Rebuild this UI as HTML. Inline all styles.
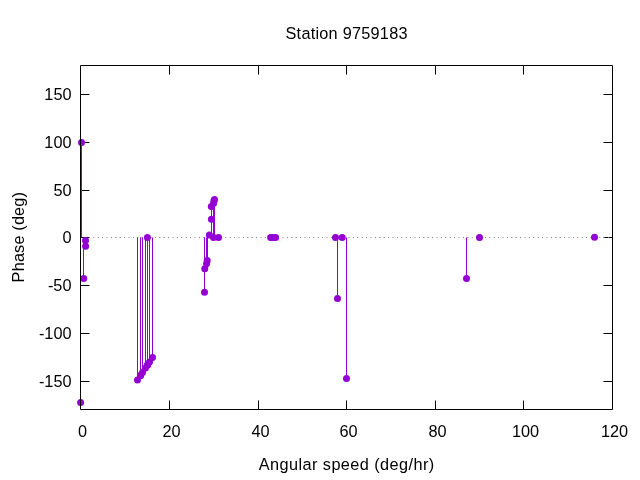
<!DOCTYPE html><html><head><meta charset="utf-8"><style>html,body{margin:0;padding:0;background:#fff;}svg{display:block;will-change:transform;}text{font-family:"Liberation Sans",sans-serif;fill:#000;}</style></head><body>
<svg width="640" height="480" viewBox="0 0 640 480">

<path d="M169.5 409.5V400.5M169.5 65.5V74.5M258.5 409.5V400.5M258.5 65.5V74.5M346.5 409.5V400.5M346.5 65.5V74.5M435.5 409.5V400.5M435.5 65.5V74.5M523.5 409.5V400.5M523.5 65.5V74.5M80.5 94.5H89.5M612.5 94.5H603.5M80.5 142.5H89.5M612.5 142.5H603.5M80.5 190.5H89.5M612.5 190.5H603.5M80.5 237.5H89.5M612.5 237.5H603.5M80.5 285.5H89.5M612.5 285.5H603.5M80.5 333.5H89.5M612.5 333.5H603.5M80.5 381.5H89.5M612.5 381.5H603.5" stroke="#000" stroke-width="1" fill="none"/>
<path d="M80.1 237.5H612" stroke="#7c7c7c" stroke-width="1" stroke-dasharray="1 3.4" fill="none"/>
<path d="M80.5 237.5V402.4M81.5 237.5V142.4M83.5 237.5V278.4M85.5 237.5V240.5M85.5 237.5V246.3M137.5 237.5V379.93M140.5 237.5V375.46M140.5 237.5V375.46M142.5 237.5V372.49M145.5 237.5V368.02M147.5 237.5V365.04M147.5 237.5V365.04M149.5 237.5V362.07M152.5 237.5V357.6M204.5 237.5V292.3M204.5 237.5V268.75M206.5 237.5V263.7M207.5 237.5V260.5M209.5 237.5V235.0M211.5 237.5V206.5M211.5 237.5V219.3M213.5 237.5V203.3M213.5 237.5V201.0M214.5 237.5V199.5M337.5 237.5V298.4M346.5 237.5V378.4M466.5 237.5V278.4" stroke="#9400d3" stroke-width="1" fill="none"/>
<circle cx="80.6" cy="402.4" r="3.5" fill="#9400d3"/>
<circle cx="81.5" cy="142.4" r="3.5" fill="#9400d3"/>
<circle cx="83.7" cy="278.4" r="3.5" fill="#9400d3"/>
<circle cx="85.5" cy="240.5" r="3.5" fill="#9400d3"/>
<circle cx="85.6" cy="246.3" r="3.5" fill="#9400d3"/>
<circle cx="137.5" cy="379.93" r="3.5" fill="#9400d3"/>
<circle cx="140.5" cy="375.46" r="3.5" fill="#9400d3"/>
<circle cx="140.5" cy="375.46" r="3.5" fill="#9400d3"/>
<circle cx="142.5" cy="372.49" r="3.5" fill="#9400d3"/>
<circle cx="145.5" cy="368.02" r="3.5" fill="#9400d3"/>
<circle cx="147.5" cy="365.04" r="3.5" fill="#9400d3"/>
<circle cx="147.4" cy="237.4" r="3.5" fill="#9400d3"/>
<circle cx="147.5" cy="365.04" r="3.5" fill="#9400d3"/>
<circle cx="149.5" cy="362.07" r="3.5" fill="#9400d3"/>
<circle cx="152.5" cy="357.6" r="3.5" fill="#9400d3"/>
<circle cx="204.5" cy="292.3" r="3.5" fill="#9400d3"/>
<circle cx="204.75" cy="268.75" r="3.5" fill="#9400d3"/>
<circle cx="206.5" cy="263.7" r="3.5" fill="#9400d3"/>
<circle cx="207.2" cy="260.5" r="3.5" fill="#9400d3"/>
<circle cx="209.4" cy="235.0" r="3.5" fill="#9400d3"/>
<circle cx="211.3" cy="206.5" r="3.5" fill="#9400d3"/>
<circle cx="211.4" cy="219.3" r="3.5" fill="#9400d3"/>
<circle cx="213.6" cy="203.3" r="3.5" fill="#9400d3"/>
<circle cx="213.5" cy="237.5" r="3.5" fill="#9400d3"/>
<circle cx="213.9" cy="201.0" r="3.5" fill="#9400d3"/>
<circle cx="214.5" cy="199.5" r="3.5" fill="#9400d3"/>
<circle cx="218.5" cy="237.4" r="3.5" fill="#9400d3"/>
<circle cx="270.6" cy="237.4" r="3.5" fill="#9400d3"/>
<circle cx="273.1" cy="237.4" r="3.5" fill="#9400d3"/>
<circle cx="275.6" cy="237.4" r="3.5" fill="#9400d3"/>
<circle cx="335.5" cy="237.5" r="3.5" fill="#9400d3"/>
<circle cx="337.5" cy="298.4" r="3.5" fill="#9400d3"/>
<circle cx="342.2" cy="237.5" r="3.5" fill="#9400d3"/>
<circle cx="346.5" cy="378.4" r="3.5" fill="#9400d3"/>
<circle cx="466.5" cy="278.4" r="3.5" fill="#9400d3"/>
<circle cx="479.5" cy="237.4" r="3.5" fill="#9400d3"/>
<circle cx="594.5" cy="237.3" r="3.5" fill="#9400d3"/>
<path d="M80.5 65.5H612.5V409.5H80.5Z" stroke="#000" stroke-width="1" fill="none"/>
<text x="82.6" y="437.0" font-size="16.3" text-anchor="middle">0</text>
<text x="171.6" y="437.0" font-size="16.3" text-anchor="middle">20</text>
<text x="260.6" y="437.0" font-size="16.3" text-anchor="middle">40</text>
<text x="348.6" y="437.0" font-size="16.3" text-anchor="middle">60</text>
<text x="437.6" y="437.0" font-size="16.3" text-anchor="middle">80</text>
<text x="525.6" y="437.0" font-size="16.3" text-anchor="middle">100</text>
<text x="614.6" y="437.0" font-size="16.3" text-anchor="middle">120</text>
<text x="71.5" y="100.4" font-size="16.3" text-anchor="end">150</text>
<text x="71.5" y="148.4" font-size="16.3" text-anchor="end">100</text>
<text x="71.5" y="196.4" font-size="16.3" text-anchor="end">50</text>
<text x="71.5" y="243.4" font-size="16.3" text-anchor="end">0</text>
<text x="71.5" y="291.4" font-size="16.3" text-anchor="end">-50</text>
<text x="71.5" y="339.4" font-size="16.3" text-anchor="end">-100</text>
<text x="71.5" y="387.4" font-size="16.3" text-anchor="end">-150</text>
<text x="346.5" y="39.3" font-size="16.3" text-anchor="middle" textLength="122" lengthAdjust="spacing">Station 9759183</text>
<text x="346.5" y="470" font-size="16.3" text-anchor="middle" textLength="175.5" lengthAdjust="spacing">Angular speed (deg/hr)</text>
<text transform="translate(24 237.2) rotate(-90)" x="0" y="0" font-size="16.3" text-anchor="middle" textLength="90.4" lengthAdjust="spacing">Phase (deg)</text>
</svg></body></html>
